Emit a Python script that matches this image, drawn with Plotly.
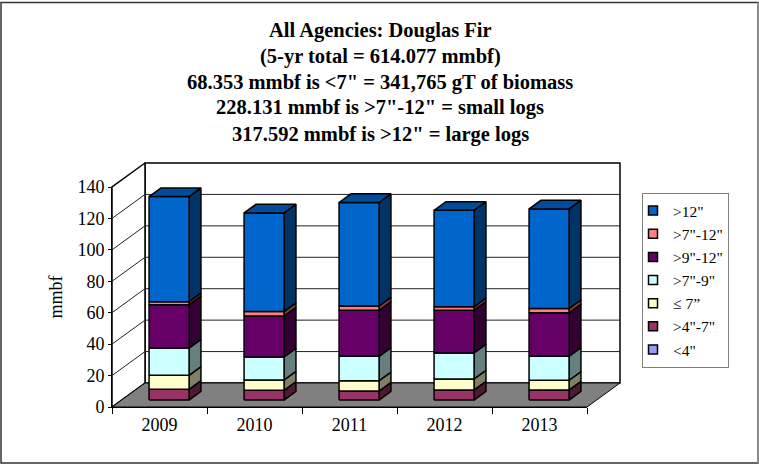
import plotly.graph_objects as go

years = ["2009", "2010", "2011", "2012", "2013"]
lt4 = [0, 0, 0, 0, 0]
g4_7 = [6.8, 6.2, 5.7, 6.4, 6.4]
le7 = [8.9, 6.6, 6.6, 7.0, 6.2]
g7_9 = [17.4, 14.6, 15.5, 16.6, 15.3]
g9_12 = [27.6, 26.1, 29.3, 27.2, 27.6]
g7_12 = [1.9, 2.8, 2.8, 2.1, 2.8]
g12 = [66.9, 62.8, 65.8, 61.4, 63.3]

series = [
    ('<4"', lt4, "#9999FF", "#4D4D80"),
    ('>4"-7"', g4_7, "#993366", "#4D1933"),
    ("\u2264 7\u201d", le7, "#FFFFCC", "#808066"),
    ('>7"-9"', g7_9, "#CCFFFF", "#668080"),
    ('>9"-12"', g9_12, "#660066", "#330033"),
    ('>7"-12"', g7_12, "#FF8080", "#804040"),
    ('>12"', g12, "#0066CC", "#003366"),
]
TOP_COLOR = "#004C99"
title_lines = [
    "All Agencies: Douglas Fir",
    "(5-yr total = 614.077 mmbf)",
    "68.353 mmbf is &lt;7\" = 341,765 gT of biomass",
    "228.131 mmbf is &gt;7\"-12\" = small logs",
    "317.592 mmbf is &gt;12\" = large logs",
]

W, H = 759, 464
M = 12   # margin asked for
MX = 12  # margin plotly ends up with, left and right
MY = 22  # margin plotly ends up with, top and bottom
L, R, T, B = 112, 587, 187, 407
FONT = "Liberation Serif"
VMAX = 140
UX = (R - L) / 5
KY = (B - T) / VMAX
DX = 33 / UX
DY = 24 / KY
GAP = 27.5 / 95
D0, D1 = 0.29, 0.65


def paper_x(px):
    return (px - MX) / (W - 2 * MX)


def paper_y(py):
    return 1 - (py - MY) / (H - 2 * MY)


def pt(u, v, d):
    return u + d * DX, v + d * DY


def poly(points):
    xs, ys = zip(*[pt(*p) for p in points])
    return list(xs) + [xs[0]], list(ys) + [ys[0]]


fig = go.Figure()


def add_poly(points, fill, line="black", width=1.5):
    x, y = poly(points)
    fig.add_trace(go.Scatter(
        x=x, y=y, mode="lines", fill="toself" if fill else None, fillcolor=fill,
        line=dict(color=line, width=width), hoverinfo="skip", showlegend=False,
    ))


n = len(years)
# walls and floor
add_poly([(0, 0, 1), (n, 0, 1), (n, VMAX, 1), (0, VMAX, 1)], "white", width=1.5)
add_poly([(0, 0, 0), (0, VMAX, 0), (0, VMAX, 1), (0, 0, 1)], "white", width=1.5)
for v in range(20, VMAX, 20):
    x, y = zip(*[pt(0, v, 0), pt(0, v, 1), pt(n, v, 1)])
    fig.add_trace(go.Scatter(x=x, y=y, mode="lines", line=dict(color="#222222", width=1),
                             hoverinfo="skip", showlegend=False))
add_poly([(0, 0, 0), (n, 0, 0), (n, 0, 1), (0, 0, 1)], "#808080", width=1)

# bars
cum = [0.0] * n
for idx, (name, vals, front, side) in enumerate(series):
    for i in range(n):
        if vals[i] <= 0:
            continue
        a, b = i + GAP, i + 1 - GAP
        lo, hi = cum[i], cum[i] + vals[i]
        add_poly([(b, lo, D0), (b, lo, D1), (b, hi, D1), (b, hi, D0)], side)
        add_poly([(a, lo, D0), (b, lo, D0), (b, hi, D0), (a, hi, D0)], front)
        if idx == len(series) - 1:
            add_poly([(a, hi, D0), (b, hi, D0), (b, hi, D1), (a, hi, D1)], TOP_COLOR)
        cum[i] = hi

# legend keys
for name, vals, front, side in reversed(series):
    fig.add_trace(go.Scatter(
        x=[None], y=[None], mode="markers", name=name, legendgroup=name,
        marker=dict(symbol="square", size=9, color=front, line=dict(color="black", width=1.5)),
    ))

# keeps the visible front axes alive
fig.add_trace(go.Scatter(x=[None], y=[None], xaxis="x2", yaxis="y2", showlegend=False, hoverinfo="skip"))

ann = []
for line, ypx in zip(title_lines, [30, 56, 82, 107, 134]):
    ann.append(dict(text=f"<b>{line}</b>", xref="x", yref="y",
                    x=(380 - L) / UX, y=(B - ypx) / KY,
                    xanchor="center", yanchor="middle", showarrow=False,
                    font=dict(family=FONT, size=20.5, color="black")))

fig.update_layout(
    width=W, height=H, autosize=False,
    margin=dict(l=M, r=M, t=M, b=M, pad=0),
    paper_bgcolor="white", plot_bgcolor="rgba(0,0,0,0)",
    font=dict(family=FONT, color="black"),
    annotations=ann,
    shapes=[
        dict(type="rect", xref="paper", yref="paper",
             x0=paper_x(1), x1=paper_x(758), y0=paper_y(463), y1=paper_y(2.5),
             line=dict(color="#333333", width=1.5), layer="below"),
        dict(type="line", xref="paper", yref="paper",
             x0=paper_x(758), x1=paper_x(758), y0=paper_y(463), y1=paper_y(2.5),
             line=dict(color="#999999", width=1.5), layer="below"),
    ],
    showlegend=True,
    legend=dict(x=paper_x(642), y=paper_y(193), xanchor="left", yanchor="top",
                bordercolor="#808080", borderwidth=1, bgcolor="white",
                font=dict(family=FONT, size=15.5, color="black"),
                tracegroupgap=0, indentation=-10, traceorder="grouped"),
    xaxis=dict(domain=[0, 1], range=[(MX - L) / UX, (W - MX - L) / UX], visible=False, fixedrange=True),
    yaxis=dict(domain=[0, 1], range=[(B - (H - MY)) / KY, (B - MY) / KY], visible=False, fixedrange=True),
    xaxis2=dict(domain=[paper_x(L), paper_x(R)], anchor="y2", range=[0, n], tickmode="array",
                tickvals=[i + 0.5 for i in range(n)], ticktext=years,
                ticks="", showgrid=False, zeroline=False, showline=True, linecolor="black", linewidth=1,
                tickfont=dict(family=FONT, size=18), ticklabelstandoff=1,
                minor=dict(tickmode="array", tickvals=list(range(n + 1)), ticks="outside", ticklen=6,
                           tickcolor="black", showgrid=False)),
    yaxis2=dict(domain=[paper_y(B), paper_y(T)], anchor="x2", range=[0, VMAX], tickmode="array",
                tickvals=list(range(0, VMAX + 1, 20)),
                ticks="outside", ticklen=3, tickcolor="black", showgrid=False, zeroline=False,
                showline=True, linecolor="black", linewidth=1,
                tickfont=dict(family=FONT, size=18),
                title=dict(text="mmbf", font=dict(family=FONT, size=18), standoff=10)),
)
fig.write_html("out.html", config=dict(displayModeBar=False),
               post_script="document.body.style.margin='0';document.documentElement.style.overflow='hidden';")
